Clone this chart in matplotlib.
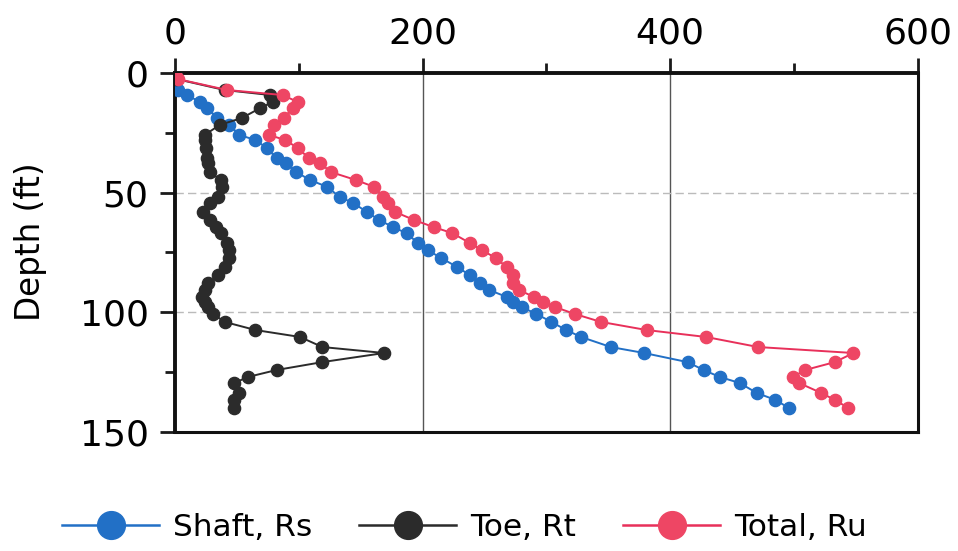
import matplotlib
matplotlib.use("Agg")
import matplotlib.pyplot as plt
from matplotlib.ticker import MultipleLocator

depth = [0, 2.5, 7.1, 9.2, 12.1, 14.6, 18.8, 21.7, 25.9, 28, 31.3, 35.5, 37.6, 41.4, 44.7,
         47.6, 51.8, 54.3, 58.1, 61.4, 64.4, 66.9, 71, 74, 77.3, 81.1, 84.4, 87.8, 90.7,
         93.6, 95.7, 97.8, 100.7, 104, 107.4, 110.3, 114.5, 117, 120.8, 124.1, 127, 129.5,
         133.7, 136.6, 140]
shaft = [0, 1, 2.4, 9.7, 20, 26, 34, 44, 52, 65, 74, 82, 90, 98, 109, 123, 133, 144, 155,
         165, 176, 187, 196, 204, 215, 228, 238, 246, 254, 268, 273, 280, 292, 304, 316,
         328, 352, 379, 414, 427, 440, 456, 470, 485, 496]
toe = [0, 1, 40, 77, 79, 69, 54, 36, 24, 24, 25, 26, 27, 28, 37, 38, 35, 28, 23, 28, 33,
       37, 42, 44, 44, 40, 35, 27, 24, 22, 24, 27, 31, 40, 65, 101, 119, 169, 119, 82, 59,
       48, 52, 48, 48]
total = [0, 2, 42, 87, 99, 95, 88, 80, 76, 89, 99, 108, 117, 126, 146, 161, 168, 172, 178,
         193, 209, 224, 238, 248, 259, 268, 273, 273, 278, 290, 297, 307, 323, 344, 381,
         429, 471, 548, 533, 509, 499, 504, 522, 533, 544]

x_ticks = [0, 200, 400, 600]
y_ticks = [0, 50, 100, 150]
labels = ["Shaft, Rs", "Toe, Rt", "Total, Ru"]

plt.rcParams['font.family'] = ['DejaVu Sans']

fig = plt.figure(figsize=(9.58, 5.51), dpi=100)
ax = fig.add_axes([0.1827, 0.216, 0.958 - 0.1827, 0.8675 - 0.216])

c_shaft = '#2270c6'
c_toe = '#2b2b2b'
c_total = '#ee4664'
c_total_line = '#e8305a'
ms = 8.8
lw = 1.4

ax.plot(shaft, depth, '-o', color=c_shaft, mfc=c_shaft, mec=c_shaft, ms=ms, lw=lw, zorder=3)
ax.plot(toe, depth, '-o', color=c_toe, mfc=c_toe, mec=c_toe, ms=ms, lw=lw, zorder=4)
ax.plot(total, depth, '-o', color=c_total_line, mfc=c_total, mec=c_total, ms=ms, lw=lw, zorder=5)

ax.set_xlim(0, 600)
ax.set_ylim(150, 0)
ax.xaxis.tick_top()
ax.set_xticks(x_ticks)
ax.set_yticks(y_ticks)
ax.xaxis.set_minor_locator(MultipleLocator(100))
ax.yaxis.set_minor_locator(MultipleLocator(25))
ax.tick_params(axis='both', which='major', direction='out', length=11, width=2,
               labelsize=26, color='#1a1a1a', pad=5)
ax.tick_params(axis='y', which='major', pad=8)
ax.tick_params(axis='both', which='minor', direction='out', length=7, width=2,
               color='#1a1a1a')
ax.tick_params(axis='x', which='both', top=True, bottom=False)

for x in [200, 400]:
    ax.axvline(x, color='#555555', lw=1.0, zorder=1)
for y in [50, 100]:
    ax.axhline(y, color='#bbbbbb', lw=1.0, ls=(0, (6, 3)), zorder=1)

for s in ['left', 'top']:
    ax.spines[s].set_linewidth(2.8)
    ax.spines[s].set_color('#111111')
for s in ['right', 'bottom']:
    ax.spines[s].set_linewidth(2.2)
    ax.spines[s].set_color('#111111')

ax.set_ylabel("Depth (ft)", fontsize=23.5)
ax.yaxis.set_label_coords(-0.172, 0.53)

h1 = plt.Line2D([], [], color=c_shaft, marker='o', ms=20, mfc=c_shaft, mec=c_shaft, lw=1.8)
h2 = plt.Line2D([], [], color=c_toe, marker='o', ms=20, mfc=c_toe, mec=c_toe, lw=1.8)
h3 = plt.Line2D([], [], color=c_total_line, marker='o', ms=20, mfc=c_total, mec=c_total, lw=1.8)
fig.legend([h1, h2, h3], labels, loc='center', bbox_to_anchor=(0.485, 0.042), ncol=3,
           frameon=False, fontsize=22.5, handlelength=3.1, handletextpad=0.45,
           columnspacing=1.5, borderpad=0.2)

fig.savefig("out.png", dpi=100)
